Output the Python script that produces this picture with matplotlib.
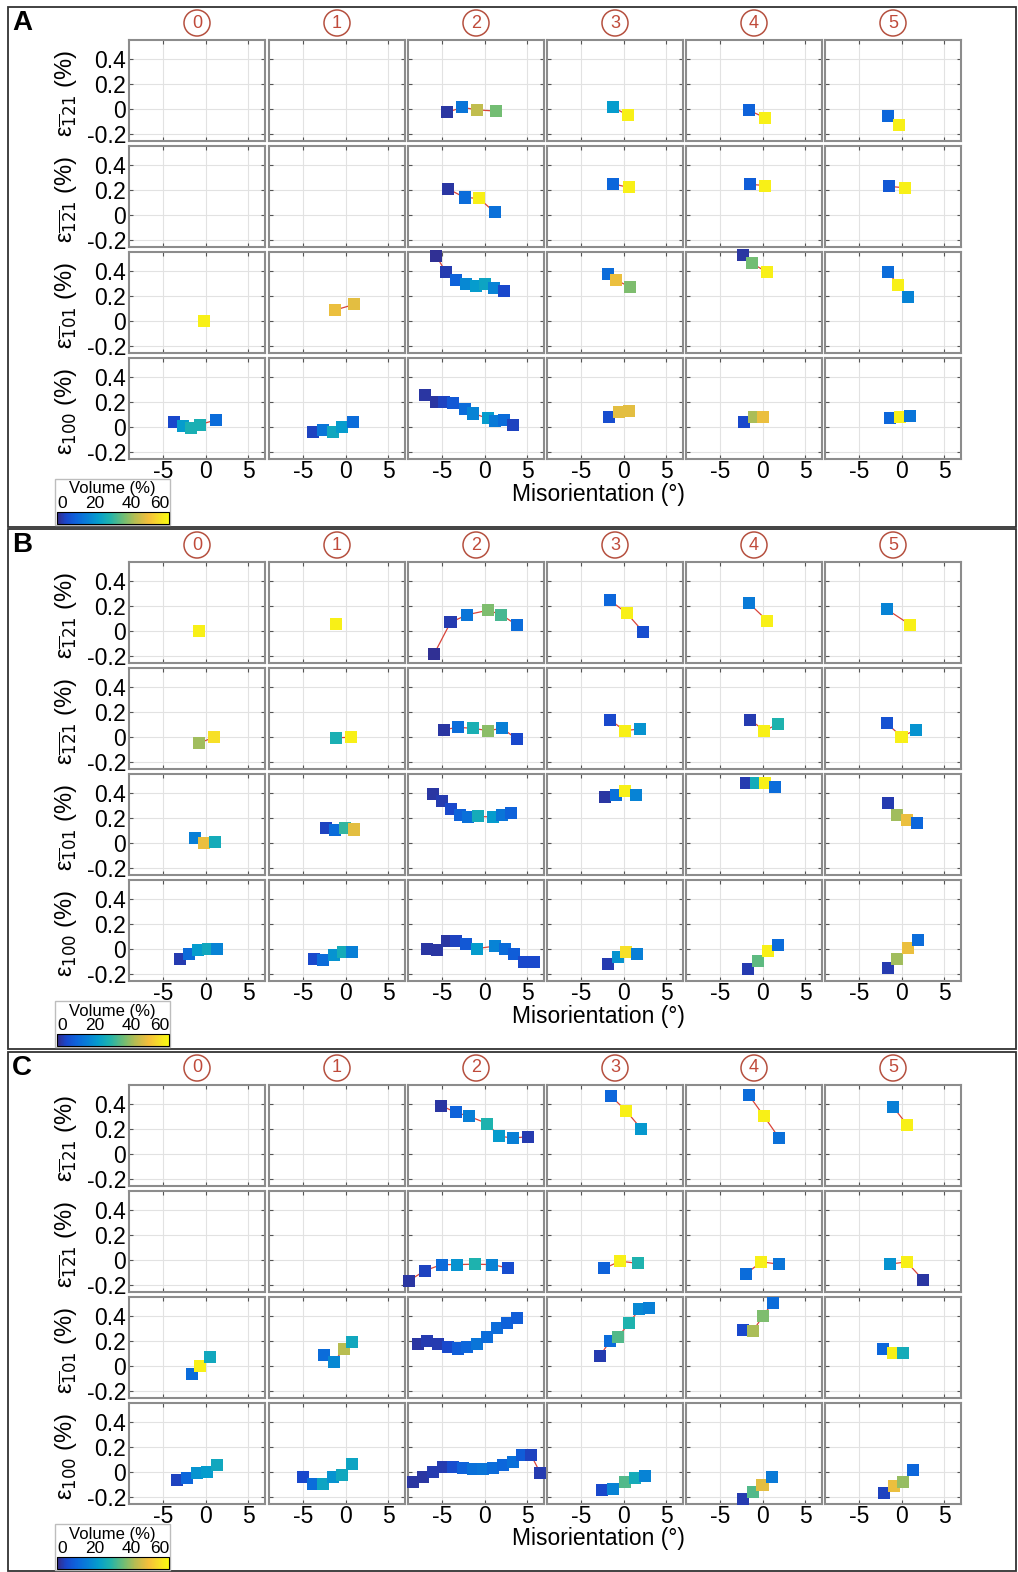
import matplotlib.pyplot as plt
from matplotlib.colors import LinearSegmentedColormap
from matplotlib.patches import Rectangle

plt.rcParams["font.family"] = ["Liberation Sans", "DejaVu Sans"]
plt.rcParams["mathtext.fontset"] = "dejavusans"

# ---------------- data: misorientation (deg), strain (%), volume (%) ----------------
# one list per column (columns 0..5), empty list = no data

# Panel A
A1_x = [[], [], [-4.4, -2.6, -0.9, 1.3], [-1.25, 0.55], [-1.6, 0.3], [-1.55, -0.25]]
A1_y = [[], [], [-0.03, 0.01, -0.01, -0.02], [0.012, -0.055], [-0.014, -0.073], [-0.06, -0.133]]
A1_v = [[], [], [2, 14, 43, 36], [22, 58], [10, 58], [11, 58]]

A2_x = [[], [], [-4.25, -2.35, -0.65, 1.22], [-1.2, 0.65], [-1.5, 0.27], [-1.45, 0.4]]
A2_y = [[], [], [0.205, 0.137, 0.13, 0.017], [0.245, 0.218], [0.243, 0.233], [0.226, 0.215]]
A2_v = [[], [], [2, 12, 58, 13], [11, 58], [9, 58], [8, 58]]

A3_x = [[-0.2], [-1.2, 1.05], [-5.7, -4.55, -3.4, -2.15, -1.02, 0.05, 1.07, 2.3],
        [-1.8, -0.85, 0.72], [-2.35, -1.25, 0.55], [-1.55, -0.45, 0.75]]
A3_y = [[0.0], [0.085, 0.13], [0.52, 0.39, 0.322, 0.29, 0.278, 0.295, 0.262, 0.235],
        [0.375, 0.325, 0.27], [0.525, 0.46, 0.387], [0.39, 0.287, 0.187]]
A3_v = [[58], [48, 47], [1, 3, 10, 18, 22, 24, 17, 5], [12, 48, 37], [2, 36, 58], [12, 58, 17]]

A4_x = [[-3.7, -2.7, -1.65, -0.67, 1.2], [-3.8, -2.6, -1.5, -0.4, 0.9],
        [-7.0, -5.75, -4.75, -3.7, -2.33, -1.3, 0.4, 1.2, 2.25, 3.35],
        [-1.65, -0.55, 0.6], [-2.15, -1.05, 0.1], [-1.4, -0.2, 1.0]]
A4_y = [[0.035, 0.005, -0.01, 0.016, 0.053], [-0.04, -0.03, -0.04, -0.005, 0.04],
        [0.255, 0.2, 0.2, 0.19, 0.14, 0.105, 0.065, 0.045, 0.054, 0.014],
        [0.08, 0.117, 0.125], [0.04, 0.075, 0.075], [0.068, 0.075, 0.082]]
A4_v = [[5, 22, 27, 27, 12], [4, 14, 25, 22, 12], [2, 2, 4, 8, 12, 17, 22, 15, 12, 4],
        [6, 47, 47], [5, 41, 48], [11, 58, 14]]

# Panel B
B1_x = [[-0.75], [-1.1], [-5.95, -4.0, -2.05, 0.42, 1.97, 3.8], [-1.64, 0.38, 2.35],
        [-1.6, 0.55], [-1.73, 1.0]]
B1_y = [[0.0], [0.055], [-0.19, 0.065, 0.127, 0.163, 0.127, 0.045], [0.245, 0.14, -0.013],
        [0.22, 0.08], [0.17, 0.048]]
B1_v = [[58], [58], [1, 3, 14, 37, 32, 12], [11, 58, 6], [15, 58], [17, 58]]

B2_x = [[-0.78, 1.0], [-1.1, 0.68], [-4.8, -3.07, -1.4, 0.42, 2.1, 3.8],
        [-1.55, 0.14, 1.97], [-1.5, 0.23, 1.84], [-1.73, 0.0, 1.68]]
B2_y = [[-0.053, -0.005], [-0.01, -0.005], [0.056, 0.074, 0.066, 0.048, 0.066, -0.02],
        [0.133, 0.048, 0.061], [0.136, 0.048, 0.1], [0.106, 0.0, 0.053]]
B2_v = [[40, 55], [27, 58], [2, 12, 27, 38, 16, 5], [5, 58, 20], [3, 58, 28], [7, 58, 20]]

B3_x = [[-1.22, -0.12, 1.1], [-2.3, -1.2, -0.08, 1.0],
        [-6.1, -5.0, -3.9, -2.85, -1.9, -0.8, 1.0, 2.04, 3.1],
        [-2.12, -0.92, 0.2, 1.48], [-1.98, -0.8, 0.28, 1.47], [-1.55, -0.48, 0.64, 1.83]]
B3_y = [[0.04, 0.0, 0.008], [0.115, 0.1, 0.115, 0.105],
        [0.39, 0.33, 0.27, 0.22, 0.205, 0.21, 0.205, 0.22, 0.24],
        [0.368, 0.38, 0.41, 0.38], [0.48, 0.48, 0.475, 0.445], [0.315, 0.22, 0.18, 0.16]]
B3_v = [[16, 48, 26], [4, 12, 30, 47], [2, 3, 5, 10, 13, 26, 22, 14, 10],
        [2, 13, 58, 17], [3, 26, 58, 12], [3, 40, 48, 11]]

B4_x = [[-3.05, -1.96, -0.85, 0.26, 1.35], [-3.7, -2.6, -1.4, -0.3, 0.8],
        [-6.8, -5.6, -4.4, -3.3, -2.15, -0.9, 1.25, 2.4, 3.5, 4.65, 5.85],
        [-1.88, -0.68, 0.32, 1.6], [-1.7, -0.52, 0.6, 1.87], [-1.6, -0.48, 0.72, 1.91]]
B4_y = [[-0.083, -0.047, -0.013, 0.0, 0.0], [-0.086, -0.09, -0.05, -0.03, -0.026],
        [0.0, -0.015, 0.06, 0.06, 0.04, 0.0, 0.02, 0.0, -0.04, -0.105, -0.105],
        [-0.125, -0.07, -0.026, -0.04], [-0.164, -0.096, -0.018, 0.026],
        [-0.156, -0.086, 0.005, 0.065]]
B4_v = [[3, 12, 22, 25, 17], [5, 12, 20, 26, 16], [2, 2, 2, 4, 8, 22, 17, 12, 9, 5, 5],
        [3, 20, 55, 16], [3, 34, 58, 12], [3, 40, 48, 12]]

# Panel C
C1_x = [[], [], [-5.1, -3.4, -1.85, 0.35, 1.7, 3.3, 5.15], [-1.47, 0.28, 2.06],
        [-1.6, 0.12, 1.92], [-1.0, 0.68]]
C1_y = [[], [], [0.385, 0.33, 0.3, 0.24, 0.14, 0.125, 0.135], [0.46, 0.345, 0.2],
        [0.468, 0.305, 0.128], [0.375, 0.23]]
C1_v = [[], [], [2, 10, 16, 28, 22, 16, 3], [11, 58, 21], [12, 58, 13], [16, 58]]

C2_x = [[], [], [-8.9, -7.05, -5.05, -3.2, -1.15, 0.9, 2.8], [-2.26, -0.4, 1.67],
        [-1.96, -0.12, 1.92], [-1.4, 0.6, 2.5]]
C2_y = [[], [], [-0.17, -0.09, -0.04, -0.04, -0.037, -0.04, -0.068], [-0.07, -0.013, -0.03],
        [-0.115, -0.018, -0.037], [-0.037, -0.018, -0.16]]
C2_v = [[], [], [2, 4, 12, 20, 28, 17, 6], [10, 58, 28], [12, 58, 14], [20, 58, 2]]

C3_x = [[-1.63, -0.62, 0.54], [-2.56, -1.4, -0.23, 0.78],
        [-7.85, -6.8, -5.5, -4.3, -3.15, -2.05, -0.87, 0.3, 1.5, 2.7, 3.8],
        [-2.75, -1.6, -0.6, 0.7, 1.85, 3.0], [-2.25, -1.1, 0.05, 1.2], [-2.15, -1.0, 0.15]]
C3_y = [[-0.07, -0.005, 0.066], [0.087, 0.026, 0.13, 0.186],
        [0.175, 0.195, 0.175, 0.148, 0.137, 0.148, 0.175, 0.228, 0.3, 0.343, 0.38],
        [0.08, 0.195, 0.232, 0.345, 0.45, 0.465], [0.283, 0.28, 0.397, 0.505], [0.13, 0.1, 0.1]]
C3_v = [[12, 58, 25], [12, 18, 42, 25], [2, 3, 3, 5, 9, 11, 14, 12, 12, 10, 9],
        [3, 12, 33, 28, 18, 16], [5, 41, 37, 12], [11, 58, 26]]

C4_x = [[-3.3, -2.17, -1.0, 0.15, 1.3], [-5.0, -3.85, -2.7, -1.5, -0.4, 0.72],
        [-8.4, -7.2, -6.05, -4.9, -3.75, -2.55, -1.35, -0.2, 1.0, 2.15, 3.3, 4.45, 5.5, 6.55],
        [-2.5, -1.2, 0.16, 1.34, 2.5], [-2.27, -1.17, 0.0, 1.17], [-2.08, -0.92, 0.23, 1.38]]
C4_y = [[-0.066, -0.055, -0.013, 0.0, 0.05], [-0.042, -0.1, -0.1, -0.042, -0.03, 0.063],
        [-0.08, -0.045, -0.005, 0.04, 0.04, 0.03, 0.022, 0.018, 0.025, 0.05, 0.08, 0.13, 0.13, -0.01],
        [-0.145, -0.14, -0.087, -0.055, -0.034], [-0.218, -0.166, -0.105, -0.047],
        [-0.17, -0.118, -0.08, 0.013]]
C4_v = [[4, 11, 20, 22, 25], [5, 12, 24, 20, 25, 24], [2, 2, 3, 3, 6, 10, 13, 14, 12, 11, 13, 9, 4, 3],
        [5, 17, 33, 26, 17], [3, 33, 47, 15], [4, 48, 39, 11]]

row_labels = [r"ε$_{\overline{1}21}$ (%)", r"ε$_{\overline{1}\overline{2}1}$ (%)",
              r"ε$_{\overline{1}01}$ (%)", r"ε$_{100}$ (%)"]
col_names = ["0", "1", "2", "3", "4", "5"]
panel_names = ["A", "B", "C"]
panel_rows = [
    [(A1_x, A1_y, A1_v), (A2_x, A2_y, A2_v), (A3_x, A3_y, A3_v), (A4_x, A4_y, A4_v)],
    [(B1_x, B1_y, B1_v), (B2_x, B2_y, B2_v), (B3_x, B3_y, B3_v), (B4_x, B4_y, B4_v)],
    [(C1_x, C1_y, C1_v), (C2_x, C2_y, C2_v), (C3_x, C3_y, C3_v), (C4_x, C4_y, C4_v)],
]

# parula-like colour map
parula = LinearSegmentedColormap.from_list("parula", [
    (0.00, (0.208, 0.166, 0.529)), (0.08, (0.10, 0.28, 0.80)), (0.17, (0.05, 0.39, 0.86)),
    (0.27, (0.03, 0.50, 0.84)), (0.37, (0.02, 0.62, 0.80)), (0.47, (0.12, 0.70, 0.68)),
    (0.60, (0.45, 0.74, 0.45)), (0.70, (0.72, 0.74, 0.32)), (0.82, (0.96, 0.75, 0.23)),
    (0.92, (0.97, 0.88, 0.15)), (1.00, (0.976, 0.983, 0.054))])

# ---------------- layout (pixels) ----------------
W, H = 1018, 1572
fig = plt.figure(figsize=(W / 100, H / 100), dpi=100)


def fx(px):
    return px / W


def fy(py):
    return 1 - py / H


col_left = [129, 269, 408, 547, 686, 825]
row_top = [40, 146, 252, 358]
ax_w, ax_h = 136, 101
panel_off = [0, 522, 1045]
panel_box = [(7, 527), (529, 1049), (1052, 1571)]

for p, off in enumerate(panel_off):
    y0, y1 = panel_box[p]
    fig.patches.append(Rectangle((fx(8), fy(y1)), fx(1008), (y1 - y0) / H,
                                 transform=fig.transFigure, fill=False,
                                 ec="#333333", lw=1.3))
    fig.text(fx(12), fy(off + 10), panel_names[p], fontsize=20, fontweight="bold",
             va="top", ha="left")

    for c in range(6):
        fig.text(fx(col_left[c] + ax_w / 2), fy(off + 23), col_names[c],
                 color="#c04a3a", fontsize=13, ha="center", va="center",
                 bbox=dict(boxstyle="circle,pad=0.25", fc="white", ec="#b5503f", lw=1.1))

    for r in range(4):
        xs, ys, vs = panel_rows[p][r]
        for c in range(6):
            ax = fig.add_axes([fx(col_left[c]), fy(off + row_top[r] + ax_h),
                               fx(ax_w), ax_h / H])
            ax.set_xlim(-9, 7)
            ax.set_ylim(-0.26, 0.55)
            ax.set_xticks([-5, 0, 5])
            ax.set_yticks([-0.2, 0, 0.2, 0.4])
            ax.grid(True, color="#e2e2e2", lw=0.8)
            ax.set_axisbelow(True)
            ax.tick_params(direction="in", length=3, top=True, right=True,
                           color="#555555", labelsize=16.5, pad=2)
            ax.tick_params(axis="x", pad=0.5)
            for s in ax.spines.values():
                s.set_color("#8c8c8c")
                s.set_linewidth(1.5)
            if r == 3:
                ax.set_xticklabels(["-5", "0", "5"])
            else:
                ax.set_xticklabels([])
            if c == 0:
                ax.set_yticklabels(["-0.2", "0", "0.2", "0.4"])
            else:
                ax.set_yticklabels([])
            if len(xs[c]) > 0:
                ax.plot(xs[c], ys[c], color="#d9443a", lw=0.9, zorder=2, clip_on=False)
                ax.scatter(xs[c], ys[c], c=vs[c], cmap=parula, vmin=0, vmax=60,
                           marker="s", s=75, edgecolors="none", zorder=3, clip_on=False)
        fig.text(fx(66), fy(off + row_top[r] + ax_h / 2 + 3), row_labels[r],
                 rotation=90, fontsize=17, ha="center", va="center")

    fig.text(fx(598), fy(off + 494), "Misorientation (°)", fontsize=16.5,
             ha="center", va="center")

    # colour bar legend
    fig.patches.append(Rectangle((fx(55), fy(off + 525)), fx(115), 46 / H,
                                 transform=fig.transFigure, fc="white",
                                 ec="#bdbdbd", lw=1.0, zorder=5))
    fig.text(fx(112), fy(off + 489), "Volume (%)", fontsize=12, ha="center",
             va="center", zorder=6)
    cax = fig.add_axes([fx(57), fy(off + 524), fx(112), 12 / H], zorder=6)
    sm = plt.cm.ScalarMappable(cmap=parula, norm=plt.Normalize(0, 60))
    cb = fig.colorbar(sm, cax=cax, orientation="horizontal", ticks=[0, 20, 40, 60])
    cb.outline.set_linewidth(0.8)
    cax.xaxis.set_ticks_position("top")
    cax.tick_params(length=0, labelsize=12.5, pad=0.5)
    labels = cax.get_xticklabels()
    labels[0].set_ha("left")
    labels[-1].set_ha("right")

fig.savefig("out.png", dpi=100)
